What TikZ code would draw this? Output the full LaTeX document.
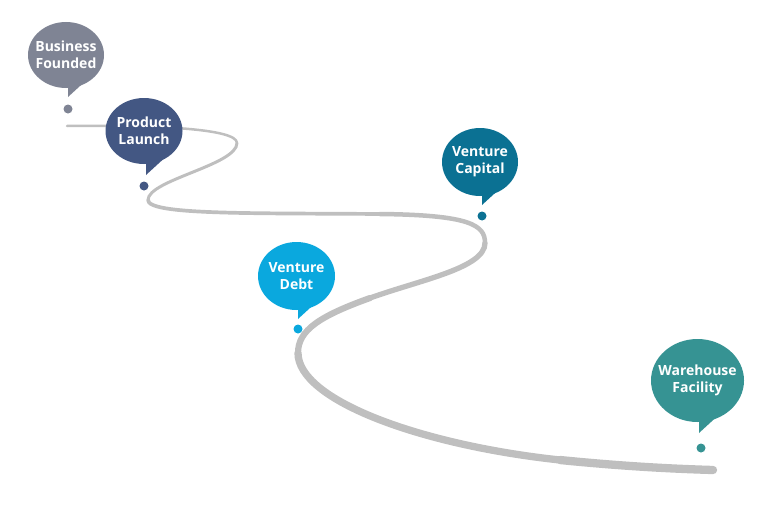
\documentclass[tikz,border=0pt]{standalone}
\usepackage{fontspec}
\setmainfont{Open Sans}
\definecolor{grisglobo}{HTML}{7F8494}
\definecolor{azullanz}{HTML}{435783}
\definecolor{azulcap}{HTML}{0B7193}
\definecolor{celeste}{HTML}{0AA8DE}
\definecolor{verdeazul}{HTML}{369393}
\definecolor{grisruta}{HTML}{BFBFBF}
\tikzset{
    ruta/.style={draw=grisruta, line cap=round},
    texto/.style={text=white, align=center, inner sep=0pt,
        font=\bfseries\fontsize{14}{17}\selectfont},
    punto/.style={circle, inner sep=0pt, minimum size=9pt},
}
\begin{document}
\begin{tikzpicture}[x=1pt, y=-1pt]
    \useasboundingbox (0,0) rectangle (775,511);

    % Camino
    \draw[ruta, line width=2.5pt] (67,126) .. controls (150,125) and (237,128) .. (237,143);
    \draw[ruta, line width=3pt] (237,143) .. controls (237,165) and (148,180) .. (148,200);
    \draw[ruta, line width=3.7pt] (148,200) .. controls (148,215) and (250,213) .. (380,214);
    \draw[ruta, line width=4.5pt] (380,214) .. controls (470,215) and (485,225) .. (485,243);
    \draw[ruta, line width=5.3pt] (485,243) .. controls (485,268) and (420,280) .. (370,298);
    \draw[ruta, line width=6.2pt] (370,298) .. controls (320,316) and (298,330) .. (298,353);
    \draw[ruta, line width=7.3pt] (298,353) .. controls (298,400) and (420,445) .. (560,460);
    \draw[ruta, line width=8.3pt] (560,460) .. controls (630,467) and (680,469) .. (713,470);

    % Business Founded
    \fill[grisglobo] (68,97) -- ++(0,-22) -- ++(24,0) -- cycle;
    \fill[grisglobo] (66,55) ellipse [x radius=38, y radius=33];
    \node[texto] (fundada) at (66,55) {Business\\Founded};
    \node[punto, fill=grisglobo] (p1) at (68,109) {};

    % Product Launch
    \fill[azullanz] (146,175) -- ++(0,-22) -- ++(24,0) -- cycle;
    \fill[azullanz] (144,131) ellipse [x radius=38.5, y radius=33];
    \node[texto] (lanzamiento) at (144,131) {Product\\Launch};
    \node[punto, fill=azullanz] (p2) at (144,186) {};

    % Venture Capital
    \fill[azulcap] (482,205) -- ++(0,-22) -- ++(24,0) -- cycle;
    \fill[azulcap] (480,162) ellipse [x radius=38, y radius=34];
    \node[texto] (capital) at (480,162) {Venture\\Capital};
    \node[punto, fill=azulcap] (p3) at (482,216) {};

    % Venture Debt
    \fill[celeste] (298,319) -- ++(0,-22) -- ++(24,0) -- cycle;
    \fill[celeste] (296.5,276) ellipse [x radius=38.5, y radius=34];
    \node[texto] (deuda) at (296.5,276) {Venture\\Debt};
    \node[punto, fill=celeste] (p4) at (298,329) {};

    % Warehouse Facility
    \fill[verdeazul] (699,433) -- ++(0,-22) -- ++(24,0) -- cycle;
    \fill[verdeazul] (697.5,380.5) ellipse [x radius=46.5, y radius=41.5];
    \node[texto] (almacen) at (697.5,380.5) {Warehouse\\Facility};
    \node[punto, fill=verdeazul] (p5) at (701,448) {};
\end{tikzpicture}
\end{document}
